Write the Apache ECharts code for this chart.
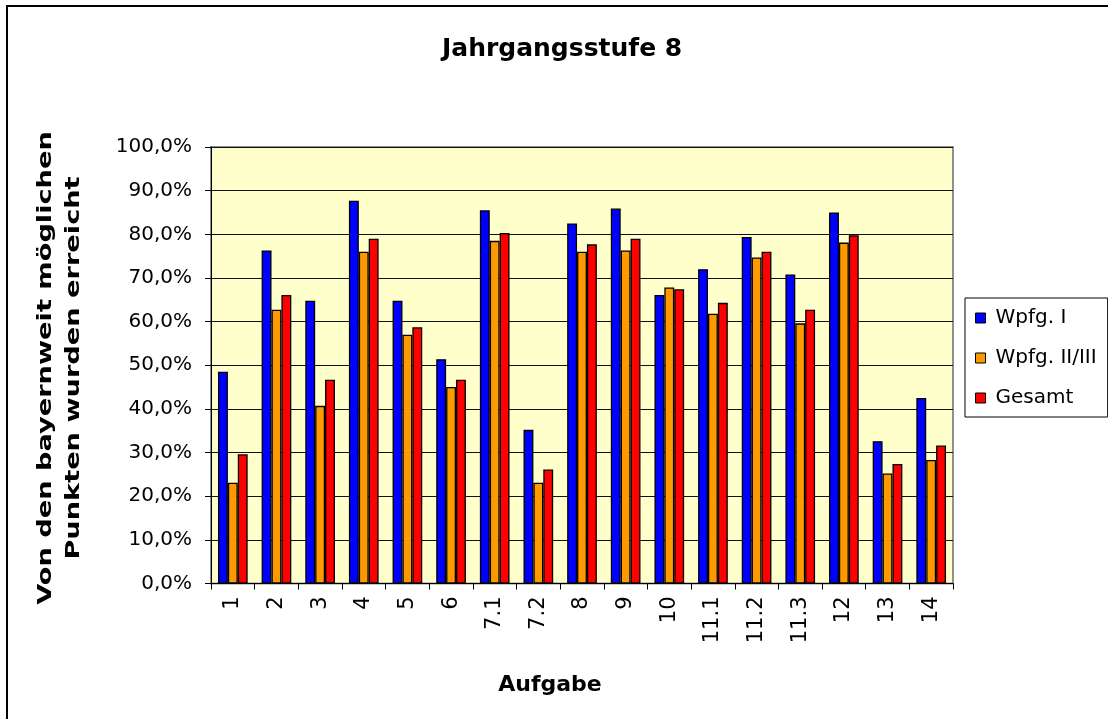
<!DOCTYPE html>
<html>
<head>
<meta charset="utf-8">
<script src="https://cdn.jsdelivr.net/npm/echarts@6/dist/echarts.min.js"></script>
<style>html,body{margin:0;padding:0;background:#fff;}#c{width:1108px;height:719px;}</style>
</head>
<body>
<div id="c"></div>
<script>
const categories = ['1','2','3','4','5','6','7.1','7.2','8','9','10','11.1','11.2','11.3','12','13','14'];
const wpfgI = [48.5, 76.3, 64.8, 87.7, 64.8, 51.4, 85.5, 35.2, 82.5, 85.9, 66.1, 72.0, 79.4, 70.8, 85.0, 32.6, 42.5];
const wpfgII = [23.1, 62.7, 40.7, 76.0, 57.0, 45.0, 78.5, 23.1, 76.0, 76.3, 67.8, 61.8, 74.7, 59.6, 78.1, 25.2, 28.3];
const gesamt = [29.6, 66.1, 46.7, 79.0, 58.7, 46.7, 80.3, 26.1, 77.7, 79.0, 67.4, 64.3, 76.0, 62.7, 79.8, 27.4, 31.6];
const seriesNames = ['Wpfg. I', 'Wpfg. II/III', 'Gesamt'];
const seriesColors = ['#0000FF', '#FF9900', '#FF0000'];
const titleText = 'Jahrgangsstufe 8';
const xTitle = 'Aufgabe';
const yTitleLines = ['Von den bayernweit möglichen', 'Punkten wurden erreicht'];

const chart = echarts.init(document.getElementById('c'), null, {renderer: 'canvas'});
const seriesData = [wpfgI, wpfgII, gesamt];
const option = {
  animation: false,
  backgroundColor: '#fff',
  title: {
    text: titleText,
    left: 442,
    top: 37,
    padding: 0,
    textStyle: {fontFamily: 'DejaVu Sans', fontWeight: 'bold', fontSize: 25, color: '#000'}
  },
  legend: {
    orient: 'vertical',
    left: 965,
    top: 298,
    padding: [10, 11, 9, 10],
    itemGap: 20,
    itemWidth: 10,
    itemHeight: 10,
    icon: 'rect',
    borderColor: '#000',
    borderWidth: 1,
    backgroundColor: '#fff',
    itemStyle: {borderColor: '#000', borderWidth: 1},
    textStyle: {fontFamily: 'DejaVu Sans', fontSize: 20, color: '#000', padding: [0, 0, 0, 5]},
    data: seriesNames
  },
  grid: {
    left: 211, right: 155, top: 147, bottom: 135.5,
    show: true,
    backgroundColor: '#FFFFCC',
    borderColor: '#909090',
    borderWidth: 2
  },
  xAxis: {
    type: 'category',
    data: categories,
    boundaryGap: true,
    name: xTitle,
    nameLocation: 'middle',
    nameGap: 91,
    nameTextStyle: {fontFamily: 'DejaVu Sans', fontWeight: 'bold', fontSize: 22, color: '#000', padding: [0, 64, 0, 0]},
    axisLine: {lineStyle: {color: '#000', width: 1}},
    axisTick: {show: true, length: 6, alignWithLabel: false, lineStyle: {color: '#000'}},
    axisLabel: {rotate: 90, margin: 13, fontFamily: 'DejaVu Sans', fontSize: 21, color: '#000', interval: 0}
  },
  yAxis: {
    type: 'value',
    min: 0,
    max: 100,
    interval: 10,
    axisLine: {show: true, lineStyle: {color: '#000', width: 1}},
    axisTick: {show: true, length: 6, lineStyle: {color: '#000'}},
    axisLabel: {
      margin: 19,
      fontFamily: 'DejaVu Sans', fontSize: 20, color: '#000',
      formatter: v => v.toFixed(1).replace('.', ',') + '%'
    },
    splitLine: {show: true, lineStyle: {color: '#111', width: 1}}
  },
  series: seriesData.map((d, i) => ({
    type: 'bar',
    name: seriesNames[i],
    data: d,
    barGap: '0%',
    barCategoryGap: '32%',
    itemStyle: {color: seriesColors[i], borderColor: '#000', borderWidth: 1.3}
  })),
  graphic: [
    {
      type: 'rect',
      silent: true,
      shape: {x: 7, y: 6, width: 1300, height: 900},
      style: {fill: null, stroke: '#000', lineWidth: 2},
      z: 100
    },
    {
      type: 'text',
      x: 60,
      y: 368,
      rotation: Math.PI / 2,
      scaleX: 1.36,
      style: {
        text: yTitleLines.join('\n'),
        font: 'bold 20px "DejaVu Sans"',
        fill: '#000',
        align: 'center',
        verticalAlign: 'middle',
        lineHeight: 28
      }
    }
  ]
};
chart.setOption(option);
</script>
</body>
</html>
